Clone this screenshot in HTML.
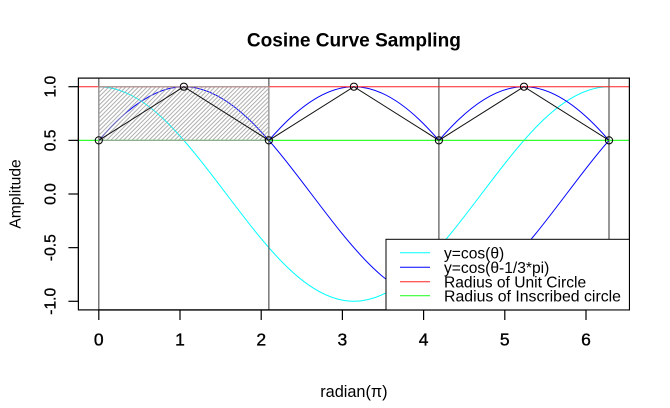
<!DOCTYPE html>
<html>
<head>
<meta charset="utf-8">
<style>
html,body{margin:0;padding:0;background:#fff;}
svg{display:block;}
text{font-family:"Liberation Sans",Arial,sans-serif;fill:#000;}
</style>
</head>
<body>
<svg width="670" height="408" viewBox="0 0 670 408" xmlns="http://www.w3.org/2000/svg">
<defs>
  <clipPath id="c0" clipPathUnits="userSpaceOnUse"><rect x="0" y="-2" width="6.2831853" height="4"/></clipPath>
  <clipPath id="c2" clipPathUnits="userSpaceOnUse"><rect x="2.0943951" y="-2" width="2.0943951" height="4"/></clipPath>
  <clipPath id="c3" clipPathUnits="userSpaceOnUse"><rect x="4.1887902" y="-2" width="2.0943951" height="4"/></clipPath>
  <pattern id="h" patternUnits="userSpaceOnUse" width="3" height="3" patternTransform="rotate(45)">
    <line x1="0.5" y1="0" x2="0.5" y2="3" stroke="#9a9a9a" stroke-width="0.8"/>
  </pattern>
</defs>

<!-- title -->
<text x="353.9" y="46.7" font-size="19.5" font-weight="bold" text-anchor="middle" textLength="214" lengthAdjust="spacingAndGlyphs">Cosine Curve Sampling</text>

<!-- curves -->
<g transform="matrix(81.2 0 0 -107.3 98.8 194)" fill="none">
  <g clip-path="url(#c0)">
    <path vector-effect="non-scaling-stroke" stroke="#00ffff" stroke-width="1" d="M-1.5707963 0C-1.0585097 0.5122866 -0.5684826 1 0 1C0.5684826 1 1.0585097 0.5122866 1.5707963 0C2.083083 -0.5122866 2.5731101 -1 3.1415927 -1C3.7100753 -1 4.2001024 -0.5122866 4.712389 0C5.2246756 0.5122866 5.7147027 1 6.2831853 1"/>
  </g>
  <g clip-path="url(#c0)">
    <path transform="translate(1.0471976 0)" vector-effect="non-scaling-stroke" stroke="#0000ff" stroke-width="1" d="M-1.5707963 0C-1.0585097 0.5122866 -0.5684826 1 0 1C0.5684826 1 1.0585097 0.5122866 1.5707963 0C2.083083 -0.5122866 2.5731101 -1 3.1415927 -1C3.7100753 -1 4.2001024 -0.5122866 4.712389 0C5.2246756 0.5122866 5.7147027 1 6.2831853 1"/>
  </g>
  <g clip-path="url(#c2)">
    <path transform="translate(3.1415927 0)" vector-effect="non-scaling-stroke" stroke="#0000ff" stroke-width="1" d="M-1.5707963 0C-1.0585097 0.5122866 -0.5684826 1 0 1C0.5684826 1 1.0585097 0.5122866 1.5707963 0C2.083083 -0.5122866 2.5731101 -1 3.1415927 -1"/>
  </g>
  <g clip-path="url(#c3)">
    <path transform="translate(5.2359878 0)" vector-effect="non-scaling-stroke" stroke="#0000ff" stroke-width="1" d="M-1.5707963 0C-1.0585097 0.5122866 -0.5684826 1 0 1C0.5684826 1 1.0585097 0.5122866 1.5707963 0C2.083083 -0.5122866 2.5731101 -1 3.1415927 -1"/>
  </g>
</g>

<!-- vertical lines -->
<g stroke="#555" stroke-width="1.2">
  <line x1="98.8" y1="78.1" x2="98.8" y2="309.9"/>
  <line x1="268.86" y1="78.1" x2="268.86" y2="309.9"/>
  <line x1="438.9" y1="78.1" x2="438.9" y2="309.9"/>
  <line x1="609.0" y1="78.1" x2="609.0" y2="309.9"/>
</g>

<!-- horizontal lines -->
<line x1="78.4" y1="86.7" x2="629.4" y2="86.7" stroke="#ff2020" stroke-width="1"/>
<line x1="78.4" y1="140.35" x2="629.4" y2="140.35" stroke="#33ff33" stroke-width="1.2"/>

<!-- hatched rect -->
<rect x="98.8" y="86.7" width="170.06" height="53.65" fill="url(#h)" stroke="#a0a0a0" stroke-width="1"/>

<!-- zigzag -->
<polyline fill="none" stroke="#111" stroke-width="1" points="98.8,140.35 183.83,86.7 268.86,140.35 353.9,86.7 438.9,140.35 523.96,86.7 609.0,140.35"/>

<!-- points -->
<g fill="none" stroke="#000" stroke-width="1">
  <circle cx="98.8" cy="140.35" r="3.6"/>
  <circle cx="183.83" cy="86.7" r="3.6"/>
  <circle cx="268.86" cy="140.35" r="3.6"/>
  <circle cx="353.9" cy="86.7" r="3.6"/>
  <circle cx="438.9" cy="140.35" r="3.6"/>
  <circle cx="523.96" cy="86.7" r="3.6"/>
  <circle cx="609.0" cy="140.35" r="3.6"/>
</g>

<!-- plot box -->
<rect x="78.4" y="78.1" width="551" height="231.8" fill="none" stroke="#000" stroke-width="1.2"/>

<!-- x axis -->
<g stroke="#000" stroke-width="1.2">
  <line x1="98.8" y1="310" x2="586" y2="310"/>
  <line x1="98.8" y1="310" x2="98.8" y2="320"/>
  <line x1="180" y1="310" x2="180" y2="320"/>
  <line x1="261.2" y1="310" x2="261.2" y2="320"/>
  <line x1="342.4" y1="310" x2="342.4" y2="320"/>
  <line x1="423.6" y1="310" x2="423.6" y2="320"/>
  <line x1="504.8" y1="310" x2="504.8" y2="320"/>
  <line x1="586" y1="310" x2="586" y2="320"/>
</g>
<g font-size="17.5" text-anchor="middle" stroke="#000" stroke-width="0.35">
  <text x="98.8" y="345.3">0</text>
  <text x="180" y="345.3">1</text>
  <text x="261.2" y="345.3">2</text>
  <text x="342.4" y="345.3">3</text>
  <text x="423.6" y="345.3">4</text>
  <text x="504.8" y="345.3">5</text>
  <text x="586" y="345.3">6</text>
</g>
<text x="353.9" y="397" font-size="16.3" text-anchor="middle">radian(π)</text>

<!-- y axis -->
<g stroke="#000" stroke-width="1.2">
  <line x1="78.4" y1="86.7" x2="78.4" y2="301.3"/>
  <line x1="68.4" y1="86.7" x2="78.4" y2="86.7"/>
  <line x1="68.4" y1="140.35" x2="78.4" y2="140.35"/>
  <line x1="68.4" y1="194" x2="78.4" y2="194"/>
  <line x1="68.4" y1="247.65" x2="78.4" y2="247.65"/>
  <line x1="68.4" y1="301.3" x2="78.4" y2="301.3"/>
</g>
<g font-size="15.6" text-anchor="middle" stroke="#000" stroke-width="0.3">
  <text transform="translate(55.6 86.7) rotate(-90)">1.0</text>
  <text transform="translate(55.6 140.35) rotate(-90)">0.5</text>
  <text transform="translate(55.6 194) rotate(-90)">0.0</text>
  <text transform="translate(55.6 247.65) rotate(-90)">-0.5</text>
  <text transform="translate(55.6 301.3) rotate(-90)">-1.0</text>
</g>
<text transform="translate(20.5 194) rotate(-90)" font-size="15.6" text-anchor="middle">Amplitude</text>

<!-- legend -->
<rect x="386" y="239.3" width="243.4" height="70.6" fill="#fff" stroke="#000" stroke-width="1"/>
<line x1="400" y1="252.7" x2="430" y2="252.7" stroke="#00ffff" stroke-width="1"/>
<line x1="400" y1="267.3" x2="430" y2="267.3" stroke="#0000ff" stroke-width="1"/>
<line x1="400" y1="281.7" x2="430" y2="281.7" stroke="#ff2020" stroke-width="1"/>
<line x1="400" y1="295.7" x2="430" y2="295.7" stroke="#33ff33" stroke-width="1.2"/>
<g font-size="15.6">
  <text x="444" y="258.4">y=cos(θ)</text>
  <text x="444" y="273">y=cos(θ-1/3*pi)</text>
  <text x="444" y="287.4">Radius of Unit Circle</text>
  <text x="444" y="301.6" textLength="177" lengthAdjust="spacingAndGlyphs">Radius of Inscribed circle</text>
</g>
</svg>
</body>
</html>
